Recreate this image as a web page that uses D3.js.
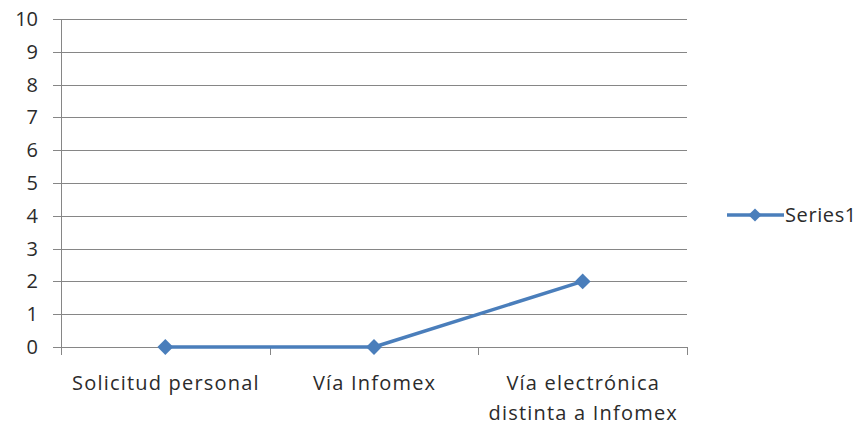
<!DOCTYPE html>
<html><head><meta charset="utf-8">
<script src="https://cdn.jsdelivr.net/npm/d3@7"></script>
<style>body{margin:0;background:#fff}svg{display:block}text{font-family:"Open Sans","Liberation Sans",sans-serif;}</style>
</head><body><svg id="c" width="866" height="427"></svg>
<script>
const categories = [["Solicitud personal"], ["Vía Infomex"], ["Vía electrónica", "distinta a Infomex"]];
const series1 = [0, 0, 2];
const yTicks = [0,1,2,3,4,5,6,7,8,9,10];
const seriesName = "Series1";

const svg = d3.select("#c");
const pLeft = 61, pRight = 687, pTop = 19, pBottom = 347;
const x = d3.scaleBand().domain(d3.range(categories.length)).range([pLeft, pRight]);
const y = d3.scaleLinear().domain([0, 10]).range([pBottom, pTop]);
const grid = "#868686", col = "#4a7ebb", txt = "#2b2b2b";
const fs = 20, ls = 1.2;

// gridlines
svg.append("g").selectAll("line").data(yTicks).join("line")
  .attr("x1", pLeft - 8).attr("x2", pRight).attr("y1", d => Math.round(y(d))+0.5).attr("y2", d => Math.round(y(d))+0.5)
  .attr("stroke", grid).attr("stroke-width", 1);
// y axis line
svg.append("line").attr("x1", pLeft+0.5).attr("x2", pLeft+0.5).attr("y1", pTop).attr("y2", pBottom)
  .attr("stroke", grid);
// x ticks at band boundaries
const bounds = d3.range(categories.length + 1).map(i => i < categories.length ? x(i) : x(categories.length-1) + x.bandwidth());
svg.append("g").selectAll("line").data(bounds).join("line")
  .attr("x1", d => Math.round(d)+0.5).attr("x2", d => Math.round(d)+0.5)
  .attr("y1", pBottom).attr("y2", pBottom + 8).attr("stroke", grid);
// y labels
svg.append("g").selectAll("text").data(yTicks).join("text")
  .attr("x", 38).attr("y", d => y(d)).attr("dy", "0.35em").attr("text-anchor", "end")
  .attr("font-size", fs).attr("fill", txt).text(d => d);
// x labels
const xl = svg.append("g").selectAll("text").data(categories).join("text")
  .attr("x", (d,i) => x(i) + x.bandwidth()/2 + ls/2).attr("y", 390)
  .attr("text-anchor", "middle").attr("font-size", fs).attr("letter-spacing", ls).attr("fill", txt);
xl.selectAll("tspan").data(d => d).join("tspan")
  .attr("x", function(){ return this.parentNode.getAttribute("x"); })
  .attr("dy", (d,i) => i === 0 ? 0 : 30).text(d => d);
// line
const line = d3.line().x((d,i) => x(i) + x.bandwidth()/2).y(d => y(d));
svg.append("path").datum(series1).attr("d", line).attr("fill", "none")
  .attr("stroke", col).attr("stroke-width", 3.5).attr("stroke-linejoin", "round");
const diamond = d3.symbol().type(d3.symbolDiamond2).size(160);
svg.append("g").selectAll("path").data(series1).join("path")
  .attr("transform", (d,i) => `translate(${x(i)+x.bandwidth()/2},${y(d)})`)
  .attr("d", diamond).attr("fill", col);
// legend
const ly = 215;
svg.append("line").attr("x1", 727).attr("x2", 784).attr("y1", ly).attr("y2", ly)
  .attr("stroke", col).attr("stroke-width", 3.5);
svg.append("path").attr("transform", `translate(755,${ly})`).attr("d", d3.symbol().type(d3.symbolDiamond2).size(110)).attr("fill", col);
svg.append("text").attr("x", 785).attr("y", ly).attr("dy", "0.35em").attr("font-size", fs)
  .attr("letter-spacing", 0.6).attr("fill", txt).text(seriesName);
</script></body></html>
